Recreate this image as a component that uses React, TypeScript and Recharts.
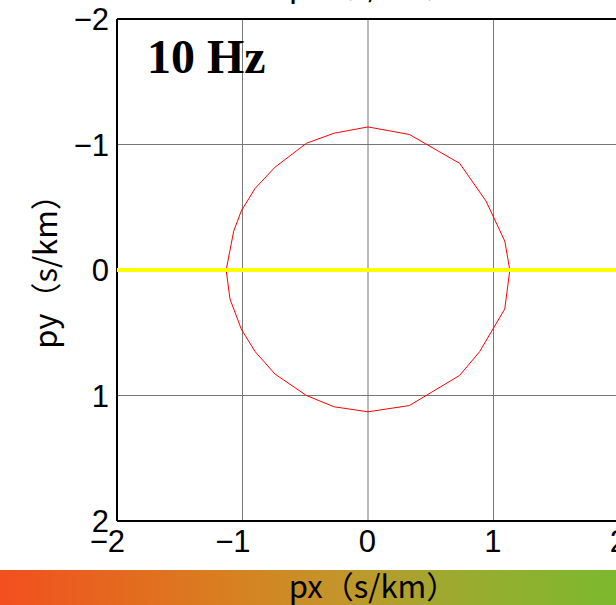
import { CartesianGrid, Customized, ReferenceLine, Scatter, ScatterChart, XAxis, YAxis } from "recharts";

// slowness circle (px, py in s/km)
const circlePx = [0, -0.27, -0.49, -0.74, -0.9, -1.01, -1.07, -1.13, -1.1, -1.01, -0.9, -0.74, -0.49, -0.27, 0, 0.33, 0.73, 0.89, 1.09, 1.13, 1.09, 0.94, 0.73, 0.33, 0];
const circlePy = [-1.14, -1.09, -1.01, -0.82, -0.65, -0.47, -0.31, 0, 0.23, 0.47, 0.65, 0.83, 1.0, 1.09, 1.13, 1.08, 0.84, 0.65, 0.31, 0, -0.23, -0.55, -0.85, -1.08, -1.14];

// yellow line along py = 0
const linePx = [-2, 2];
const linePy = [0, 0];

const ticks = [-2, -1, 0, 1, 2];
const freqLabel = "10 Hz";
const axisLabelX = "px（s/km）";
const axisLabelY = "py（s/km）";

const circleData = circlePx.map((x, i) => ({ x, y: circlePy[i] }));
const lineData = linePx.map((x, i) => ({ x, y: linePy[i] }));

const tickFont = "'Liberation Sans', Arial, sans-serif";
const cjkFont = "'Noto Sans CJK JP', sans-serif";

const fmt = (v: number) => (v < 0 ? `\u2212${-v}` : `${v}`);

function XTick(props: any) {
  const { x, y, payload } = props;
  return (
    <text x={x + 8} y={y} dy={23} textAnchor="end" fontFamily={tickFont} fontSize={31} fill="#000">
      {fmt(payload.value)}
    </text>
  );
}

function YTick(props: any) {
  const { x, y, payload } = props;
  return (
    <text x={x} y={y} dy={11} textAnchor="end" fontFamily={tickFont} fontSize={31} fill="#000">
      {fmt(payload.value)}
    </text>
  );
}

function Labels() {
  return (
    <g>
      <text x={373} y={17} textAnchor="middle" fontFamily={cjkFont} fontSize={31} fill="#000">
        {axisLabelX}
      </text>
      <text
        transform="translate(57,284) rotate(-90)"
        textAnchor="middle"
        fontFamily={cjkFont}
        fontSize={31}
        fill="#000"
      >
        {axisLabelY}
      </text>
      <text x={147} y={93} fontFamily="'Liberation Serif', 'Times New Roman', serif" fontWeight="bold" fontSize={48} fill="#000">
        {freqLabel}
      </text>
    </g>
  );
}

export default function App() {
  return (
    <div style={{ position: "fixed", left: 0, top: 0, width: 616, height: 605, overflow: "hidden", background: "#fff" }}>
      <div style={{ position: "absolute", left: 0, top: -20 }}>
        <ScatterChart width={640} height={590} margin={{ top: 39, right: 21, left: 0, bottom: 0 }}>
          <CartesianGrid stroke="#777" strokeWidth={1} />
          <XAxis
            type="number"
            dataKey="x"
            domain={[-2, 2]}
            ticks={ticks}
            height={49}
            tickLine={false}
            axisLine={{ stroke: "#000", strokeWidth: 2 }}
            tick={<XTick />}
            interval={0}
            allowDataOverflow
          />
          <YAxis
            type="number"
            dataKey="y"
            domain={[-2, 2]}
            ticks={ticks}
            reversed
            width={117}
            tickLine={false}
            axisLine={{ stroke: "#000", strokeWidth: 2 }}
            tick={<YTick />}
            interval={0}
            allowDataOverflow
          />
          <ReferenceLine y={-2} stroke="#000" strokeWidth={2} />
          <Scatter
            data={circleData}
            line={{ stroke: "#ff0000", strokeWidth: 1 }}
            lineType="joint"
            shape={() => <g />}
            isAnimationActive={false}
          />
          <Scatter
            data={lineData}
            line={{ stroke: "#ffff00", strokeWidth: 4 }}
            lineType="joint"
            shape={() => <g />}
            isAnimationActive={false}
          />
          <Customized component={Labels} />
        </ScatterChart>
      </div>
      <svg style={{ position: "absolute", left: 0, top: 570 }} width={616} height={35}>
        <defs>
          <linearGradient id="bar" x1="0" x2="1" y1="0" y2="0">
            <stop offset="0%" stopColor="#f24f1e" />
            <stop offset="35%" stopColor="#da7d20" />
            <stop offset="55%" stopColor="#c3952a" />
            <stop offset="75%" stopColor="#9aab30" />
            <stop offset="100%" stopColor="#7cb82f" />
          </linearGradient>
        </defs>
        <rect x={0} y={0} width={616} height={35} fill="url(#bar)" />
        <text x={373} y={28} textAnchor="middle" fontFamily={cjkFont} fontSize={31} fill="#000">
          {axisLabelX}
        </text>
      </svg>
    </div>
  );
}
